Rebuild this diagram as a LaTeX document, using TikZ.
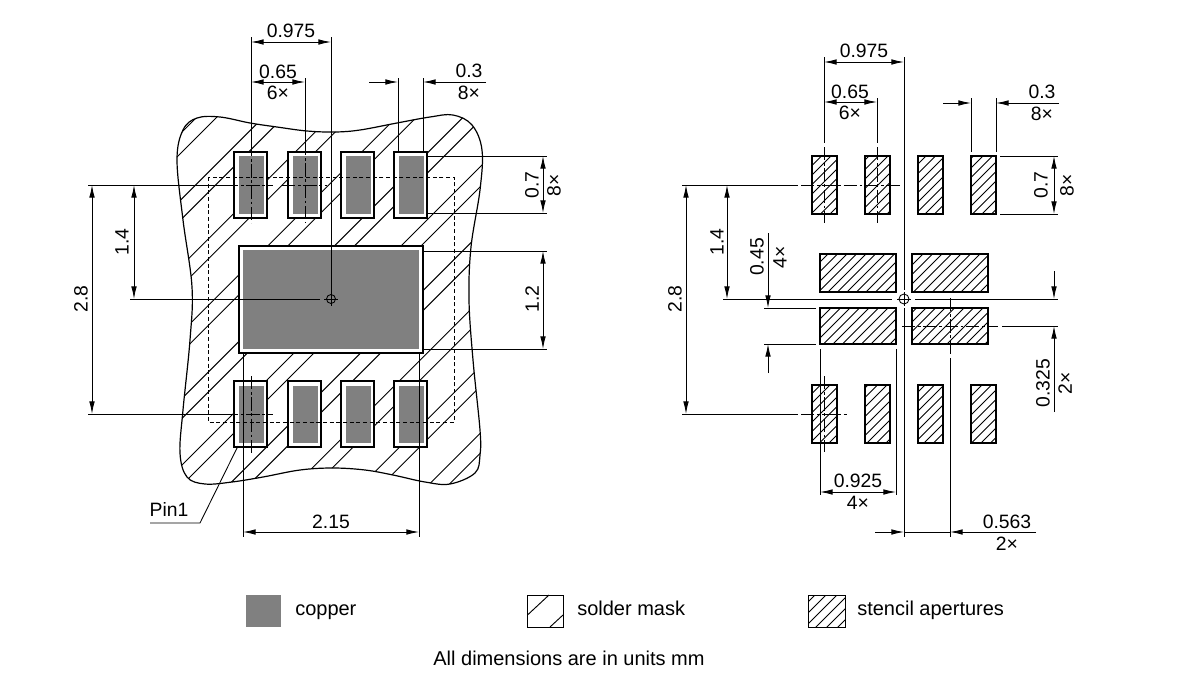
\documentclass[tikz,border=0pt]{standalone}
\usepackage{fontspec}
\setmainfont{Liberation Sans}
\usepackage{tikz}
\usetikzlibrary{arrows.meta}
\definecolor{copper}{HTML}{808080}
\tikzset{
	extline/.style={line width=0.65pt},
	centreline/.style={line width=0.65pt,dash pattern=on 10pt off 2pt on 2pt off 2pt},
	dimline/.style={line width=0.65pt,{Latex[length=9.5pt,width=4.2pt]}-{Latex[length=9.5pt,width=4.2pt]}},
	leftdim/.style={line width=0.65pt,-{Latex[length=9.5pt,width=4.2pt]}},
	hatchline/.style={line width=0.7pt},
	maskpad/.style={fill=white,draw,line width=2pt},
	copperpad/.style={fill=copper},
	stencilpad/.style={draw,line width=1.6pt},
	dimtext/.style={inner sep=0pt,font=\fontsize{14.5}{16}\selectfont},
	legendtext/.style={inner sep=0pt,font=\fontsize{15}{17}\selectfont},
}
\def\blobpath{plot[smooth cycle,tension=0.6] coordinates {(177,160) (183,130) (197,118) (220,117) (250,123) (277,127) (307,131) (335,132) (360,130) (397,123) (430,117) (453,115) (472,125) (482,150) (480,190) (471,247) (469,300) (473,360) (480,430) (480,455) (475,473) (450,484) (425,482) (393,475) (365,470) (333,468) (300,470) (263,477) (232,482) (205,484) (187,477) (180,453) (183,410) (190,340) (192,287) (183,220)}}
\begin{document}
\begin{tikzpicture}[x=0.75pt,y=-0.75pt]
	\useasboundingbox (0,0) rectangle (1200,675);

	\begin{scope}
		\clip \blobpath;
		\foreach \c in {314,380.6,447.2,513.8,580.4,647,713.6,780.2,846.8,913.4,334,400.6,467.2,533.8,600.4,667,733.6,800.2,866.8,933.4}
			\draw[hatchline] ({\c-100},100) -- ({\c-520},520);
	\end{scope}
	\draw[line width=0.9pt] \blobpath;

	\foreach \x in {234,288,341,394} {
		\draw[maskpad] (\x,152) rectangle ({\x+33},218);
		\fill[copperpad] ({\x+4.5},156) rectangle ({\x+29.5},214);
		\draw[maskpad] (\x,381) rectangle ({\x+33},447);
		\fill[copperpad] ({\x+4.5},386) rectangle ({\x+29.5},443);
	}
	\draw[maskpad] (239,246) rectangle (423,353);
	\fill[copperpad] (243,250) rectangle (419,349);
	\draw[line width=0.7pt,dash pattern=on 3pt off 2pt] (208,177) rectangle (454,422);

	\draw[extline] (251,37) -- (251,143);
	\draw[centreline] (251,143) -- (251,223);
	\draw[extline] (331,37) -- (331,292);
	\draw[extline] (305,78) -- (305,142);
	\draw[centreline] (305,142) -- (305,223);
	\draw[dimline] (251,42) -- (331,42);
	\draw[dimline] (251,82) -- (305,82);
	\node[dimtext] (w975a)at(291,31) {0.975};
	\node[dimtext] (w65a)at(278,72) {0.65};
	\node[dimtext] (n6a)at(278,93) {6×};

	\draw[extline] (398,78) -- (398,152);
	\draw[extline] (423,78) -- (423,152);
	\draw[leftdim] (369,82) -- (398,82);
	\draw[leftdim] (486,82) -- (423,82);
	\node[dimtext] (w3a)at(469,71) {0.3};
	\node[dimtext] (n8a)at(469,93) {8×};

	\draw[extline] (427,156) -- (547,156);
	\draw[extline] (427,213) -- (547,213);
	\draw[dimline] (543,156) -- (543,213);
	\node[dimtext,rotate=90] (h7a)at(532,185) {0.7};
	\node[dimtext,rotate=90] (n8b)at(554,185) {8×};

	\draw[extline] (423,251) -- (547,251);
	\draw[extline] (423,349) -- (547,349);
	\draw[dimline] (543,251) -- (543,349);
	\node[dimtext,rotate=90] (h12)at(532,299) {1.2};

	\draw[extline] (88,185) -- (225,185);
	\draw[centreline] (225,185) -- (273,185);
	\draw[centreline] (282,185) -- (327,185);
	\draw[extline] (130,299) -- (320,299);
	\draw[extline] (88,414) -- (225,414);
	\draw[centreline] (225,414) -- (273,414);
	\draw[centreline] (251,376) -- (251,453);
	\draw[dimline] (134,185) -- (134,299);
	\draw[dimline] (92,185) -- (92,414);
	\node[dimtext,rotate=90] (h14a)at(122,242) {1.4};
	\node[dimtext,rotate=90] (h28a)at(81,299) {2.8};

	\draw[extline] (331,299) circle[radius=4.5];
	\draw[line width=0.6pt] (324,299) -- (338,299);
	\draw[line width=0.6pt] (331,292) -- (331,306);

	\draw[extline] (243,353) -- (243,537);
	\draw[extline] (419,353) -- (419,537);
	\draw[dimline] (243,532) -- (419,532);
	\node[dimtext] (w215)at(331,522) {2.15};

	\node[dimtext] (pin1)at(169,509) {Pin1};
	\draw[extline] (150,523) -- (200,523) -- (238,446);

	\begin{scope}
		\clip (812,156) rectangle (837,214) (865,156) rectangle (890,214) (918,156) rectangle (943,214) (971,156) rectangle (996,214)
			(812,385) rectangle (837,443) (865,385) rectangle (890,443) (918,385) rectangle (943,443) (971,385) rectangle (996,443)
			(820,254) rectangle (896,292) (912,254) rectangle (988,292) (820,308) rectangle (896,344) (912,308) rectangle (988,344);
		\foreach \c in {968,977.5,...,1448}
			\draw[hatchline] ({\c-100},100) -- ({\c-520},520);
	\end{scope}
	\foreach \x in {812,865,918,971} {
		\draw[stencilpad] (\x,156) rectangle ({\x+25},214);
		\draw[stencilpad] (\x,385) rectangle ({\x+25},443);
	}
	\draw[stencilpad] (820,254) rectangle (896,292);
	\draw[stencilpad] (912,254) rectangle (988,292);
	\draw[stencilpad] (820,308) rectangle (896,344);
	\draw[stencilpad] (912,308) rectangle (988,344);

	\draw[extline] (824,57) -- (824,143);
	\draw[centreline] (824,147) -- (824,223);
	\draw[extline] (877,98) -- (877,143);
	\draw[centreline] (877,147) -- (877,223);
	\draw[extline] (904,57) -- (904,290);
	\draw[extline] (904,308) -- (904,537);
	\draw[dimline] (824,62) -- (904,62);
	\draw[dimline] (824,102) -- (877,102);
	\node[dimtext] (w975b)at(864,51) {0.975};
	\node[dimtext] (w65b)at(850,92) {0.65};
	\node[dimtext] (n6b)at(850,113) {6×};

	\draw[extline] (971,98) -- (971,152);
	\draw[extline] (996,98) -- (996,152);
	\draw[leftdim] (943,103) -- (971,103);
	\draw[leftdim] (1059,103) -- (996,103);
	\node[dimtext] (w3b)at(1042,92) {0.3};
	\node[dimtext] (n8c)at(1042,114) {8×};

	\draw[extline] (1000,156) -- (1058,156);
	\draw[extline] (1000,214) -- (1058,214);
	\draw[dimline] (1054,156) -- (1054,214);
	\node[dimtext,rotate=90] (h7b)at(1041,185) {0.7};
	\node[dimtext,rotate=90] (n8d)at(1067,185) {8×};

	\draw[extline] (682,185) -- (798,185);
	\draw[centreline] (801,185) -- (900,185);
	\draw[extline] (723,299) -- (892,299);
	\draw[extline] (915,299) -- (1058,299);
	\draw[extline] (682,414) -- (798,414);
	\draw[centreline] (801,414) -- (847,414);
	\draw[centreline] (824,376) -- (824,452);
	\draw[dimline] (727,185) -- (727,299);
	\draw[dimline] (686,185) -- (686,414);
	\node[dimtext,rotate=90] (h14b)at(717,242) {1.4};
	\node[dimtext,rotate=90] (h28b)at(675,299) {2.8};

	\draw[extline] (904,299) circle[radius=5];
	\draw[line width=0.6pt] (897,299) -- (911,299);
	\draw[line width=0.6pt] (904,292) -- (904,306);

	\draw[extline] (764,308) -- (816,308);
	\draw[extline] (764,344) -- (816,344);
	\draw[leftdim] (768,233) -- (768,308);
	\draw[leftdim] (768,373) -- (768,344);
	\node[dimtext,rotate=90] (h45)at(757,257) {0.45};
	\node[dimtext,rotate=90] (n4a)at(780,257) {4×};

	\draw[centreline] (902,326) -- (998,326);
	\draw[extline] (1002,326) -- (1058,326);
	\draw[centreline] (950,298) -- (950,354);
	\draw[extline] (950,358) -- (950,537);
	\draw[leftdim] (1054,271) -- (1054,299);
	\draw[leftdim] (1054,412) -- (1054,326);
	\node[dimtext,rotate=90] (h325)at(1043,383) {0.325};
	\node[dimtext,rotate=90] (n2a)at(1065,383) {2×};

	\draw[extline] (820,349) -- (820,495);
	\draw[extline] (896,349) -- (896,495);
	\draw[dimline] (820,492) -- (896,492);
	\node[dimtext] (w925)at(858,481) {0.925};
	\node[dimtext] (n4b)at(858,503) {4×};

	\draw[extline] (904,532) -- (950,532);
	\draw[leftdim] (875,532) -- (904,532);
	\draw[leftdim] (1036,532) -- (950,532);
	\node[dimtext] (w563)at(1007,522) {0.563};
	\node[dimtext] (n2b)at(1007,544) {2×};

	\fill[copperpad] (246,595) rectangle (281,627);
	\node[legendtext,anchor=base west] (copperlabel)at(295,615) {copper};

	\draw[extline] (527,595) rectangle (563,627);
	\draw[hatchline] (527.5,615) -- (549,595);
	\draw[hatchline] (550,627) -- (563,615);
	\node[legendtext,anchor=base west] (masklabel)at(577,615) {solder mask};

	\begin{scope}
		\clip (808,595) rectangle (845,627);
		\foreach \c in {1410,1421,...,1476}
			\draw[hatchline] ({\c-800},800) -- ({\c-560},560);
	\end{scope}
	\draw[extline] (808,595) rectangle (845,627);
	\node[legendtext,anchor=base west] (stencillabel)at(857,615) {stencil apertures};

	\node[legendtext] (unitsnote)at(569,658) {All dimensions are in units mm};
\end{tikzpicture}
\end{document}
